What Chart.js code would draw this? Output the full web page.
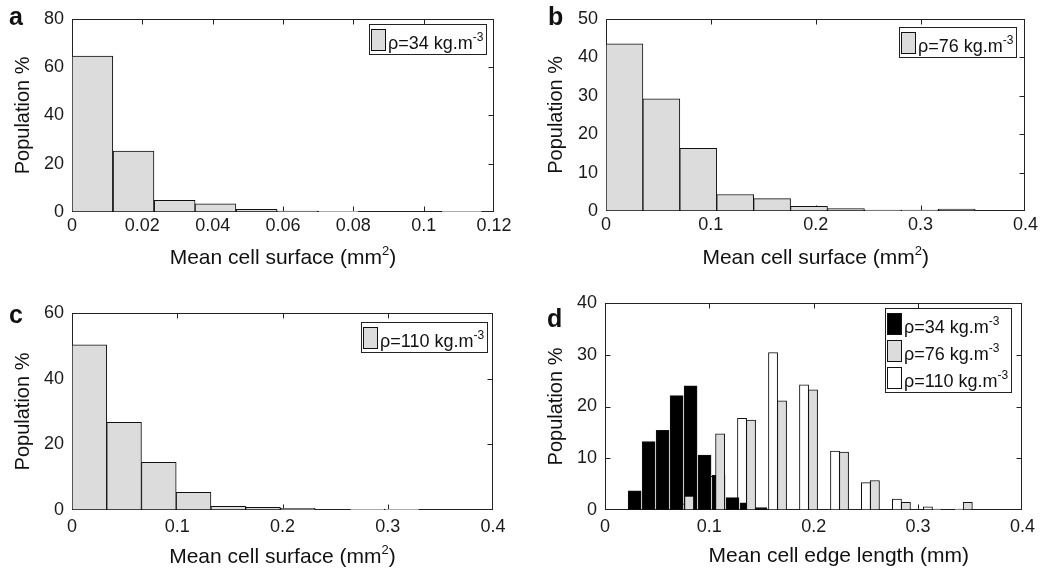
<!DOCTYPE html>
<html>
<head>
<meta charset="utf-8">
<script src="https://cdn.jsdelivr.net/npm/chart.js@4.4.1/dist/chart.umd.min.js"></script>
<style>
  body { margin: 0; background: #fff; width: 1041px; height: 573px; position: relative; overflow: hidden; }
  canvas { position: absolute; }
  .tag { position: absolute; font: bold 25px "Liberation Sans", Arial, sans-serif; line-height: 25px; color: #111; }
</style>
</head>
<body>
<canvas id="panelA" width="520" height="280" style="left:0;top:0"></canvas>
<canvas id="panelB" width="521" height="280" style="left:520px;top:0"></canvas>
<canvas id="panelC" width="520" height="293" style="left:0;top:280px"></canvas>
<canvas id="panelD" width="521" height="293" style="left:520px;top:280px"></canvas>
<div class="tag" style="left:9px;top:4px">a</div>
<div class="tag" style="left:548px;top:4px">b</div>
<div class="tag" style="left:9px;top:302px">c</div>
<div class="tag" style="left:547px;top:306px">d</div>
<script>
// bin centres and populations
const binsA = [0.0058, 0.0175, 0.0292, 0.0408, 0.0525, 0.0641, 0.0758, 0.0875, 0.0991, 0.1108];
const popA = [64.6, 25.2, 4.8, 3.4, 1.1, 0.4, 0.3, 0, 0, 0.3];
const binsB = [0.0176, 0.0528, 0.0880, 0.1232, 0.1584, 0.1936, 0.2288, 0.2640, 0.2992, 0.3344];
const popB = [43.5, 29.2, 16.3, 4.3, 3.2, 1.2, 0.6, 0.25, 0.25, 0.5];
const binsC = [0.0165, 0.0495, 0.0825, 0.1155, 0.1485, 0.1815, 0.2145, 0.2475, 0.2805, 0.3135];
const popC = [50.3, 26.7, 14.5, 5.4, 1.1, 0.8, 0.5, 0, 0.2, 0.2];

// panel d: edge length, one bin list per density
const edgeBins34 = [0.0284, 0.0418, 0.0552, 0.0686, 0.0820, 0.0954, 0.1088, 0.1222, 0.1356, 0.1490];
const edge34 = [3.7, 13.2, 15.4, 22.1, 24.0, 10.6, 6.7, 2.4, 1.4, 0.45];
const edgeBins76 = [0.0806, 0.1103, 0.1399, 0.1696, 0.1993, 0.2290, 0.2586, 0.2883, 0.3180, 0.3476];
const edge76 = [2.7, 14.7, 17.4, 21.1, 23.2, 11.2, 5.7, 1.5, 0.2, 1.5];
const edgeBins110 = [0.0720, 0.1017, 0.1313, 0.1610, 0.1907, 0.2204, 0.2500, 0.2797, 0.3094, 0.3390];
const edge110 = [1.2, 6.5, 17.7, 30.4, 24.2, 11.4, 5.3, 2.1, 0.6, 0.2];
// drawn bar widths in panel d (mm)
const barWidth34 = 0.0123;
const barWidth76 = 0.0087;
const barWidth110 = 0.0087;

const xTicksA = [0, 0.02, 0.04, 0.06, 0.08, 0.1, 0.12];
const xTicksBCD = [0, 0.1, 0.2, 0.3, 0.4];
const yTicksA = [0, 20, 40, 60, 80];
const yTicksB = [0, 10, 20, 30, 40, 50];
const yTicksC = [0, 20, 40, 60];
const yTicksD = [0, 10, 20, 30, 40];

const label34 = 'ρ=34 kg.m⁻³';
const label76 = 'ρ=76 kg.m⁻³';
const label110 = 'ρ=110 kg.m⁻³';

const FONT = '"Liberation Sans", Arial, Helvetica, sans-serif';
Chart.defaults.font.family = FONT;
Chart.defaults.font.size = 18;
Chart.defaults.color = '#1a1a1a';
Chart.defaults.animation = false;

const GRAY = '#dcdcdc';

// text with MATLAB-like raised superscripts
const SUP = {'⁻': '-', '²': '2', '³': '3'};
function richRuns(text) {
  const runs = [];
  for (const ch of text) {
    const sup = ch in SUP;
    const c = sup ? SUP[ch] : ch;
    const last = runs[runs.length - 1];
    if (last && last.sup === sup) last.text += c;
    else runs.push({text: c, sup: sup});
  }
  return runs;
}
function richWidth(ctx, runs, size, supSize) {
  let w = 0;
  runs.forEach(r => {
    ctx.font = (r.sup ? supSize : size) + 'px ' + FONT;
    w += ctx.measureText(r.text).width;
  });
  return w;
}
function drawRich(ctx, runs, x, y, size, supSize, rise) {
  runs.forEach(r => {
    ctx.font = (r.sup ? supSize : size) + 'px ' + FONT;
    ctx.fillText(r.text, x, r.sup ? y - rise : y);
    x += ctx.measureText(r.text).width;
  });
}

// box, inward ticks on all four sides, legend inside the axes, x title
const framePlugin = {
  id: 'frame',
  beforeDatasetsDraw(chart) {
    const {ctx, chartArea: a} = chart;
    const xs = chart.scales.x, ys = chart.scales.y;
    const L = Math.round(a.left) + 0.5, R = Math.round(a.right) - 0.5;
    const T = Math.round(a.top) + 0.5, B = Math.round(a.bottom) - 0.5;
    ctx.save();
    ctx.strokeStyle = '#222';
    ctx.lineWidth = 1;
    ctx.strokeRect(L, T, R - L, B - T);
    ctx.beginPath();
    xs.ticks.forEach(t => {
      const px = Math.round(xs.getPixelForValue(t.value)) + 0.5;
      if (px <= L + 1 || px >= R - 1) return;
      ctx.moveTo(px, B); ctx.lineTo(px, B - 5);
      ctx.moveTo(px, T); ctx.lineTo(px, T + 5);
    });
    ys.ticks.forEach(t => {
      const py = Math.round(ys.getPixelForValue(t.value)) + 0.5;
      if (py <= T + 1 || py >= B - 1) return;
      ctx.moveTo(L, py); ctx.lineTo(L + 5, py);
      ctx.moveTo(R, py); ctx.lineTo(R - 5, py);
    });
    ctx.stroke();
    ctx.restore();
  },
  afterDatasetsDraw(chart, args, opts) {
    const {ctx, chartArea: a} = chart;
    const sets = chart.data.datasets;
    ctx.save();
    ctx.textBaseline = 'alphabetic';
    ctx.textAlign = 'left';
    // legend
    const runs = sets.map(d => richRuns(d.label));
    const textW = Math.max(...runs.map(r => richWidth(ctx, r, 18, 12)));
    const w = Math.round(2 + 15 + 2 + textW + 4);
    const h = 4 + sets.length * 27;
    const left = Math.round(a.right - opts.legendInset[0] - w);
    const top = Math.round(a.top + opts.legendInset[1]);
    ctx.fillStyle = '#fff';
    ctx.fillRect(left, top, w, h);
    ctx.strokeStyle = '#222';
    ctx.lineWidth = 1;
    ctx.strokeRect(left + 0.5, top + 0.5, w - 1, h - 1);
    sets.forEach((d, i) => {
      const sy = top + 5 + i * 27;
      ctx.fillStyle = d.backgroundColor;
      ctx.fillRect(left + 2, sy, 15, 22);
      ctx.strokeStyle = '#111';
      ctx.strokeRect(left + 2.5, sy + 0.5, 14, 21);
      ctx.fillStyle = '#111';
      drawRich(ctx, runs[i], left + 19, sy + 20, 18, 12, 8);
    });
    // x axis title
    const tr = richRuns(opts.xTitle);
    const tw = richWidth(ctx, tr, 21, 13);
    ctx.fillStyle = '#111';
    drawRich(ctx, tr, (a.left + a.right) / 2 - tw / 2 + opts.xTitleDx, opts.xTitleBaseline, 21, 13, 9);
    ctx.restore();
  }
};

function series(bins, values) {
  return bins.map((x, i) => ({x: x, y: values[i]}));
}

function barSet(label, bins, values, color, axis, order, width) {
  return {
    label: label,
    data: series(bins, values),
    xAxisID: axis,
    order: order,
    binWidth: width,
    backgroundColor: color,
    borderColor: '#111',
    borderWidth: 1,
    borderSkipped: false,
    barPercentage: 1,
    categoryPercentage: 1
  };
}

function xAxis(ticks, shown, height, pad) {
  return {
    type: 'linear',
    display: shown,
    min: ticks[0],
    max: ticks[ticks.length - 1],
    offset: false,
    grid: {display: false, drawTicks: false},
    border: {display: false},
    ticks: {autoSkip: false, maxRotation: 0, padding: pad, callback: v => String(+v.toFixed(3))},
    afterBuildTicks: s => { s.ticks = ticks.map(v => ({value: v})); },
    afterFit: s => { if (shown) s.height = height; }
  };
}

function yAxis(ticks, width, titlePad) {
  return {
    type: 'linear',
    min: ticks[0],
    max: ticks[ticks.length - 1],
    grid: {display: false, drawTicks: false},
    border: {display: false},
    ticks: {padding: 8},
    afterBuildTicks: s => { s.ticks = ticks.map(v => ({value: v})); },
    afterFit: s => { s.width = width; },
    title: {display: true, text: 'Population %', font: {size: 20}, color: '#111', padding: {top: titlePad, bottom: 0}}
  };
}

function makePanel(id, p) {
  const canvas = document.getElementById(id);
  const scales = {x: xAxis(p.xTicks, true, p.xHeight, p.tickPad), y: yAxis(p.yTicks, p.yWidth, p.yTitlePad)};
  (p.extraAxes || []).forEach(k => { scales[k] = xAxis(p.xTicks, false, 0, 0); });
  // overlaid histograms: fixed bar widths, not grouped
  const pxPerUnit = (canvas.width - p.yWidth - p.padRight) / (p.xTicks[p.xTicks.length - 1] - p.xTicks[0]);
  p.datasets.forEach(d => {
    if (d.binWidth) {
      d.grouped = false;
      d.barThickness = d.binWidth * pxPerUnit;
    }
  });
  return new Chart(canvas, {
    type: 'bar',
    data: {datasets: p.datasets},
    options: {
      responsive: false,
      animation: false,
      layout: {padding: {top: p.padTop, right: p.padRight, left: 0, bottom: 0}},
      scales: scales,
      plugins: {
        legend: {display: false},
        tooltip: {enabled: false},
        frame: {legendInset: p.legendInset, xTitle: p.xTitle, xTitleBaseline: p.xTitleBaseline, xTitleDx: p.xTitleDx || 0}
      }
    },
    plugins: [framePlugin]
  });
}

makePanel('panelA', {
  datasets: [barSet(label34, binsA, popA, GRAY, 'x', 0)],
  xTicks: xTicksA, yTicks: yTicksA,
  padTop: 16, padRight: 26, yWidth: 72, xHeight: 68, tickPad: 3, yTitlePad: 11,
  legendInset: [7, 5], xTitle: 'Mean cell surface (mm²)', xTitleBaseline: 264
});

makePanel('panelB', {
  datasets: [barSet(label76, binsB, popB, GRAY, 'x', 0)],
  xTicks: xTicksBCD, yTicks: yTicksB,
  padTop: 11, padRight: 14, yWidth: 86, xHeight: 69, tickPad: 3, yTitlePad: 24,
  legendInset: [8, 8], xTitle: 'Mean cell surface (mm²)', xTitleBaseline: 264
});

makePanel('panelC', {
  datasets: [barSet(label110, binsC, popC, GRAY, 'x', 0)],
  xTicks: xTicksBCD, yTicks: yTicksC,
  padTop: 33, padRight: 27, yWidth: 72, xHeight: 63, tickPad: 6, yTitlePad: 11,
  legendInset: [5, 9], xTitle: 'Mean cell surface (mm²)', xTitleBaseline: 283
});

makePanel('panelD', {
  datasets: [
    barSet(label34, edgeBins34, edge34, '#000', 'x', 1, barWidth34),
    barSet(label76, edgeBins76, edge76, GRAY, 'x76', 0, barWidth76),
    barSet(label110, edgeBins110, edge110, '#fff', 'x110', 2, barWidth110)
  ],
  extraAxes: ['x76', 'x110'],
  xTicks: xTicksBCD, yTicks: yTicksD,
  padTop: 23, padRight: 14, yWidth: 85, xHeight: 63, tickPad: 6, yTitlePad: 24,
  legendInset: [10, 5], xTitle: 'Mean cell edge length (mm)', xTitleBaseline: 282, xTitleDx: 25
});
</script>
</body>
</html>
